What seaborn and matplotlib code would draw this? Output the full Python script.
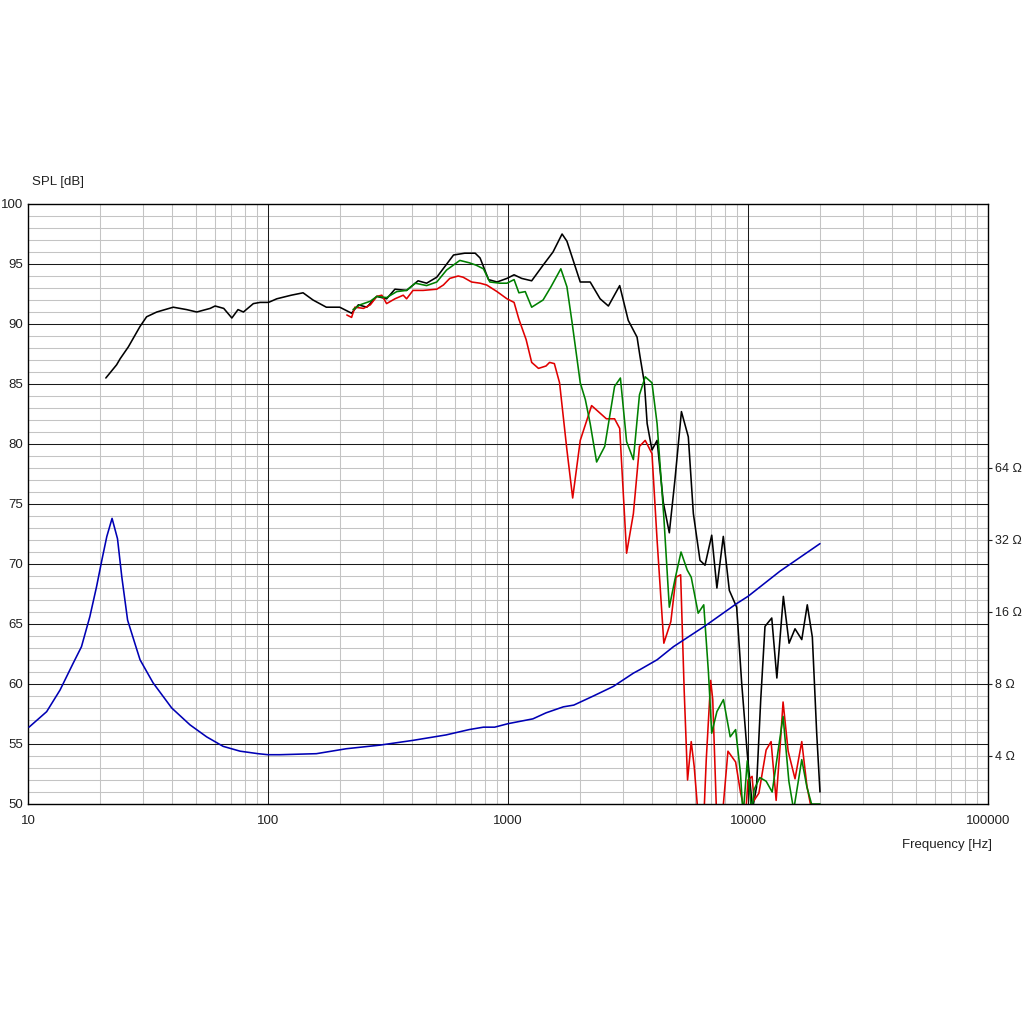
import numpy as np
import pandas as pd
import matplotlib
matplotlib.use("Agg")
import matplotlib.pyplot as plt
import matplotlib.ticker as mticker
import seaborn as sns

# --- data (Hz, dB SPL / Ohm) ---
black_f = [21.1, 23.4, 24.2, 26.2, 29.3, 31.2, 34.4, 40.3, 45.8, 50.5, 57.4, 60.2, 65.4, 70.7, 75.0,
           79.0, 86.9, 92.7, 100.5, 108.8, 125, 140, 154, 175, 199, 223, 238, 258, 284, 312, 338,
           378, 422, 458, 505, 593, 660, 730, 765, 830, 900, 990, 1060, 1140, 1255, 1400, 1540,
           1680, 1760, 2000, 2200, 2420, 2620, 2920, 3170, 3450, 3548, 3700, 3800, 3980, 4180,
           4440, 4700, 4960, 5280, 5640, 5920, 6310, 6620, 7060, 7420, 7890, 8360, 8970, 9410,
           9930, 10450, 10850, 11300, 11770, 12560, 13190, 14040, 14830, 15700, 16750, 17660,
           18540, 19330, 19950]
black_db = [85.5, 86.6, 87.1, 88.1, 89.8, 90.6, 91.0, 91.4, 91.2, 91.0, 91.3, 91.5, 91.3, 90.5, 91.2,
            91.0, 91.7, 91.8, 91.8, 92.1, 92.4, 92.6, 92.0, 91.4, 91.4, 90.9, 91.6, 91.4, 92.3, 92.1,
            92.9, 92.8, 93.6, 93.4, 93.9, 95.75, 95.9, 95.9, 95.5, 93.7, 93.5, 93.8, 94.1, 93.8, 93.6,
            94.9, 96.0, 97.5, 96.9, 93.5, 93.5, 92.1, 91.5, 93.2, 90.3, 88.9, 87.3, 85.1, 81.7, 79.5,
            80.3, 75.1, 72.6, 77.0, 82.7, 80.6, 74.2, 70.3, 69.9, 72.4, 68.0, 72.3, 67.8, 66.4, 60.1,
            54.2, 49.6, 51.4, 58.7, 64.8, 65.5, 60.5, 67.3, 63.4, 64.6, 63.7, 66.6, 63.9, 55.9, 51.0]

red_f = [213, 223, 230, 250, 267, 284, 298, 312, 338, 366, 378, 402, 443, 505, 538, 572, 620, 650,
         705, 765, 815, 900, 990, 1060, 1110, 1190, 1255, 1340, 1440, 1490, 1560, 1640, 1760, 1860,
         2000, 2230, 2570, 2780, 2920, 3120, 3330, 3530, 3730, 3980, 4180, 4460, 4770, 5010, 5240,
         5420, 5600, 5800, 5970, 6200, 6550, 6700, 6990, 7130, 7400, 7820, 8250, 8880, 9300, 9770,
         10000, 10400, 10600, 11100, 11900, 12480, 13100, 13600, 14000, 14700, 15700, 16750,
         17600, 18400]
red_db = [90.75, 90.55, 91.4, 91.3, 91.6, 92.3, 92.4, 91.7, 92.1, 92.4, 92.1, 92.8, 92.8, 92.9, 93.25,
          93.8, 94.0, 93.9, 93.5, 93.4, 93.25, 92.7, 92.1, 91.8, 90.4, 88.7, 86.8, 86.3, 86.5, 86.8,
          86.7, 85.1, 79.5, 75.5, 80.3, 83.2, 82.1, 82.1, 81.3, 70.9, 74.2, 79.8, 80.3, 79.2, 72.0,
          63.4, 65.2, 68.9, 69.1, 59.5, 52.0, 55.2, 53.1, 49.0, 49.0, 53.7, 60.3, 58.7, 49.0, 49.0,
          54.4, 53.5, 51.0, 49.0, 52.0, 52.3, 50.3, 50.9, 54.5, 55.2, 50.3, 54.75, 58.5, 54.4, 52.1,
          55.2, 51.5, 49.5]

green_f = [226, 242, 267, 284, 312, 344, 378, 411, 458, 505, 555, 630, 690, 737, 790, 840, 925, 990,
           1060, 1110, 1180, 1255, 1400, 1510, 1660, 1760, 1850, 2000, 2100, 2200, 2340, 2530, 2780,
           2940, 3120, 3330, 3530, 3730, 3980, 4180, 4460, 4700, 4960, 5260, 5580, 5800, 6200, 6540,
           6840, 7060, 7420, 7900, 8430, 8880, 9300, 9540, 9930, 10360, 10600, 11200, 11900, 12610,
           14000, 14800, 15500, 16750, 17600, 18400, 19950]
green_db = [91.2, 91.6, 91.9, 92.3, 92.2, 92.7, 92.8, 93.4, 93.2, 93.5, 94.5, 95.3, 95.1, 94.9, 94.6,
            93.5, 93.4, 93.4, 93.7, 92.6, 92.7, 91.4, 92.0, 93.1, 94.6, 93.1, 90.1, 85.1, 83.7, 81.7,
            78.5, 79.8, 84.8, 85.5, 80.2, 78.7, 84.1, 85.6, 85.1, 81.7, 73.9, 66.4, 68.7, 71.0, 69.5,
            68.9, 65.9, 66.6, 61.0, 55.9, 57.7, 58.7, 55.6, 56.2, 52.6, 49.0, 53.6, 49.0, 51.2, 52.2,
            51.9, 51.0, 57.3, 51.9, 49.5, 53.7, 51.4, 50.0, 50.0]

imp_f = [10.1, 11.96, 13.6, 15.4, 16.7, 18.1, 19.3, 20.3, 21.3, 22.4, 23.6, 24.6, 26.0, 27.9, 29.3,
         33.2, 39.7, 47.3, 55.5, 65.0, 76.5, 91.0, 100, 112, 159, 212, 292, 402, 552, 690, 790, 880,
         1000, 1270, 1440, 1700, 1880, 2270, 2750, 3330, 3548, 4180, 4886, 6700, 8930, 10000,
         13590, 19950]
imp_ohm = [5.28, 6.13, 7.55, 9.74, 11.45, 15.3, 20.4, 26.3, 33.1, 39.4, 32.4, 22.4, 14.8, 11.8, 10.1,
           8.09, 6.35, 5.40, 4.81, 4.39, 4.19, 4.09, 4.05, 4.05, 4.09, 4.29, 4.44, 4.65, 4.90, 5.16,
           5.28, 5.28, 5.46, 5.72, 6.06, 6.42, 6.53, 7.13, 7.82, 8.88, 9.19, 10.1, 11.45, 14.1, 17.3,
           18.6, 23.7, 30.9]

x_ticks = [10, 100, 1000, 10000, 100000]
x_labels = ["10", "100", "1000", "10000", "100000"]
y_ticks = [50, 55, 60, 65, 70, 75, 80, 85, 90, 95, 100]
ohm_ticks = [4, 8, 16, 32, 64]
ohm_labels = ["4 Ω", "8 Ω", "16 Ω", "32 Ω", "64 Ω"]

sns.set_style("white")
plt.rcParams['font.family'] = ['Liberation Sans', 'DejaVu Sans']

fig = plt.figure(figsize=(10.24, 10.24), dpi=100)
ax = fig.add_axes([28 / 1024, 1 - 804 / 1024, 960 / 1024, 600 / 1024])

ax.set_xscale('log')
ax.set_xlim(10, 100000)
ax.set_ylim(50, 100)

# light minor grid, then black decade / 5 dB lines on top of it
ax.xaxis.set_minor_locator(mticker.LogLocator(base=10, subs=np.arange(2, 10)))
ax.yaxis.set_minor_locator(mticker.MultipleLocator(1))
ax.grid(which='minor', color='#c4c4c4', lw=0.75)
ax.grid(which='major', visible=False)
ax.set_axisbelow(True)
for xv in x_ticks[1:-1]:
    ax.axvline(xv, color='#1a1a1a', lw=0.75, zorder=1)
for yv in y_ticks[1:-1]:
    ax.axhline(yv, color='#1a1a1a', lw=0.75, zorder=1)

lw = 1.15
sns.lineplot(x=black_f, y=black_db, ax=ax, color='black', lw=lw, estimator=None, sort=False)
sns.lineplot(x=red_f, y=red_db, ax=ax, color='#e00000', lw=lw, estimator=None, sort=False)
sns.lineplot(x=green_f, y=green_db, ax=ax, color='#008000', lw=lw, estimator=None, sort=False)

ax.set_xticks(x_ticks)
ax.set_xticklabels(x_labels)
ax.set_yticks(y_ticks)
ax.set_yticklabels([str(v) for v in y_ticks])
ax.tick_params(axis='both', which='both', length=0, labelsize=9.5, colors='#202020')
ax.tick_params(axis='x', pad=8)
ax.tick_params(axis='y', pad=3.5)
ax.set_xlabel("")
ax.set_ylabel("")
for s in ax.spines.values():
    s.set_color('black')
    s.set_linewidth(1.0)

# impedance on the right: 4 Ohm at 54 dB, one octave per 6 dB
ax2 = ax.twinx()
ax2.set_yscale('log', base=2)
ax2.set_ylim(4 * 2 ** (-4 / 6), 4 * 2 ** (46 / 6))
sns.lineplot(x=imp_f, y=imp_ohm, ax=ax2, color='#0000b4', lw=lw, estimator=None, sort=False)
ax2.set_xlim(10, 100000)
ax2.yaxis.set_minor_locator(mticker.NullLocator())
ax2.set_yticks(ohm_ticks)
ax2.set_yticklabels(ohm_labels)
ax2.tick_params(axis='y', which='major', length=3, width=0.8, pad=2, labelsize=9,
                colors='#202020', direction='out')
ax2.set_ylabel("")
for s in ax2.spines.values():
    s.set_visible(False)

fig.text(32 / 1024, 1 - 182 / 1024, "SPL [dB]", fontsize=9.5, color='#202020', va='center', ha='left')
fig.text(992 / 1024, 1 - 845 / 1024, "Frequency [Hz]", fontsize=9.5, color='#202020', va='center', ha='right')

fig.savefig("out.png", dpi=100, facecolor='white')
